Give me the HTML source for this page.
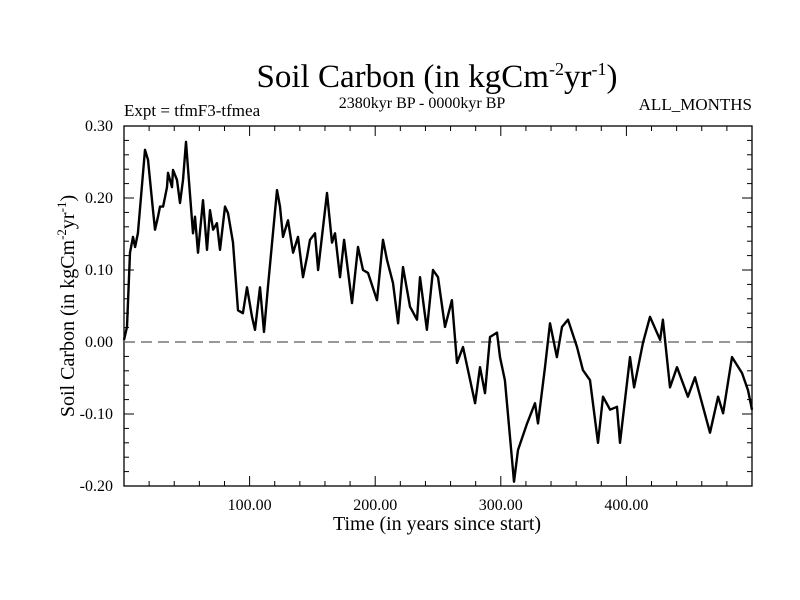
<!DOCTYPE html>
<html><head><meta charset="utf-8"><style>
html,body{margin:0;padding:0;background:#fff;}
svg{display:block;font-family:"Liberation Serif",serif;}
</style></head><body>
<svg id="chart" width="800" height="600" viewBox="0 0 800 600" xmlns="http://www.w3.org/2000/svg">
<rect width="800" height="600" fill="#fff"/>
<text x="437" y="87" font-size="33" text-anchor="middle">Soil Carbon (in kgCm<tspan dy="-12" font-size="18">-2</tspan><tspan dy="12">yr</tspan><tspan dy="-12" font-size="18">-1</tspan><tspan dy="12">)</tspan></text>
<text x="124" y="116" font-size="17">Expt = tfmF3-tfmea</text>
<text x="422" y="108" font-size="16" text-anchor="middle">2380kyr BP - 0000kyr BP</text>
<text x="752" y="110" font-size="17" text-anchor="end">ALL_MONTHS</text>
<text x="437" y="530" font-size="20" text-anchor="middle">Time (in years since start)</text>
<text transform="translate(74,306) rotate(-90)" font-size="20" text-anchor="middle">Soil Carbon (in kgCm<tspan dy="-8" font-size="13">-2</tspan><tspan dy="8">yr</tspan><tspan dy="-8" font-size="13">-1</tspan><tspan dy="8">)</tspan></text>
<g id="axes"></g>
<g id="marks"></g>
</svg>
<script>
const years = [0,2.4,4.8,7.2,8.8,11.1,16.7,19.1,22.3,23.1,24.7,27.1,28.7,31.1,34.2,35.0,38.2,39.0,42.2,44.6,47.0,49.4,51.0,54.9,56.5,58.9,62.9,66.1,68.5,70.9,74.0,76.4,80.4,82.8,86.8,90.8,94.7,97.9,101.9,104.3,108.3,111.5,114.6,121.8,124.2,126.6,130.6,134.6,138.5,142.5,145.7,148.1,152.1,154.5,161.6,165.6,168.0,172.0,175.2,181.5,186.3,190.3,194.3,201.4,206.2,209.4,214.2,218.2,222.1,227.7,233.3,235.7,241.2,246.0,250.0,255.6,261.1,265.1,269.9,279.5,283.4,287.4,291.4,297.0,299.4,303.3,310.5,313.7,320.9,327.2,329.6,335.2,339.2,344.7,348.7,353.5,360.7,365.4,371.0,377.4,381.4,387.0,392.5,394.9,402.9,406.1,413.2,418.8,426.8,429.1,434.7,440.3,449.0,454.6,466.6,473.0,477.0,484.1,492.0,496.8,500];
const soilCarbon = [0.003,0.021,0.124,0.146,0.132,0.151,0.267,0.253,0.197,0.183,0.156,0.174,0.188,0.188,0.215,0.235,0.215,0.239,0.225,0.193,0.225,0.278,0.239,0.151,0.174,0.124,0.197,0.128,0.183,0.156,0.165,0.128,0.188,0.179,0.138,0.044,0.040,0.076,0.035,0.017,0.076,0.014,0.076,0.211,0.188,0.146,0.169,0.124,0.146,0.090,0.118,0.142,0.151,0.100,0.207,0.138,0.151,0.090,0.142,0.054,0.132,0.100,0.096,0.058,0.142,0.114,0.082,0.026,0.104,0.049,0.031,0.090,0.017,0.100,0.090,0.021,0.058,-0.029,-0.007,-0.085,-0.035,-0.071,0.007,0.013,-0.021,-0.053,-0.194,-0.150,-0.113,-0.085,-0.113,-0.035,0.026,-0.021,0.021,0.031,-0.007,-0.039,-0.053,-0.140,-0.076,-0.094,-0.090,-0.140,-0.021,-0.063,-0.001,0.035,0.003,0.031,-0.063,-0.035,-0.076,-0.049,-0.126,-0.076,-0.099,-0.021,-0.043,-0.067,-0.094];
const xTickValues = [100,200,300,400];
const xTickLabels = ["100.00","200.00","300.00","400.00"];
const yTickValues = [0.30,0.20,0.10,0.00,-0.10,-0.20];
const yTickLabels = ["0.30","0.20","0.10","0.00","-0.10","-0.20"];

const L=124,R=752,T=126,B=486,X0=0,X1=500,Y0=-0.20,Y1=0.30;
function sx(v){return L+(v-X0)/(X1-X0)*(R-L);}
function sy(v){return B-(v-Y0)/(Y1-Y0)*(B-T);}
const NS="http://www.w3.org/2000/svg";
function mk(tag,parent,attrs){const e=document.createElementNS(NS,tag);for(const k in attrs)e.setAttribute(k,attrs[k]);parent.appendChild(e);return e;}
const axes=document.getElementById('axes'), marks=document.getElementById('marks');

const frame=mk('rect',axes,{x:L,y:T,width:R-L,height:B-T,fill:'none',stroke:'#000','stroke-width':1.3});



for(let v=20;v<X1;v+=20){
  const major=v%100===0, len=major?10:5, x=sx(v);
  const t1=mk('line',axes,{x1:x,x2:x,y1:B,y2:B-len,stroke:'#000','stroke-width':1});
  
  
  const t2=mk('line',axes,{x1:x,x2:x,y1:T,y2:T+len,stroke:'#000','stroke-width':1});
  
  
}
for(let i=-10;i<=15;i++){
  const v=i*0.02, major=i%5===0, len=major?10:5, y=sy(v);
  if(y<=T+0.5||y>=B-0.5)continue;
  const t1=mk('line',axes,{x1:L,x2:L+len,y1:y,y2:y,stroke:'#000','stroke-width':1});
  
  
  const t2=mk('line',axes,{x1:R,x2:R-len,y1:y,y2:y,stroke:'#000','stroke-width':1});
  
  
}
xTickValues.forEach((v,i)=>{
  const t=mk('text',axes,{x:sx(v),y:B+24,'font-size':16,'text-anchor':'middle'});
  t.textContent=xTickLabels[i];
  
  
});
yTickValues.forEach((v,i)=>{
  const t=mk('text',axes,{x:113,y:sy(v)+5,'font-size':16,'text-anchor':'end'});
  t.textContent=yTickLabels[i];
  
  
});
const zl=mk('line',marks,{x1:L,x2:R,y1:sy(0),y2:sy(0),stroke:'#777','stroke-width':1.6,'stroke-dasharray':'11,6'});


const d=years.map((y,i)=>(i?'L':'M')+sx(y).toFixed(1)+','+sy(soilCarbon[i]).toFixed(1)).join('');
const line=mk('path',marks,{d:d,fill:'none',stroke:'#000','stroke-width':2.4,'stroke-linejoin':'round'});


</script>
</body></html>
